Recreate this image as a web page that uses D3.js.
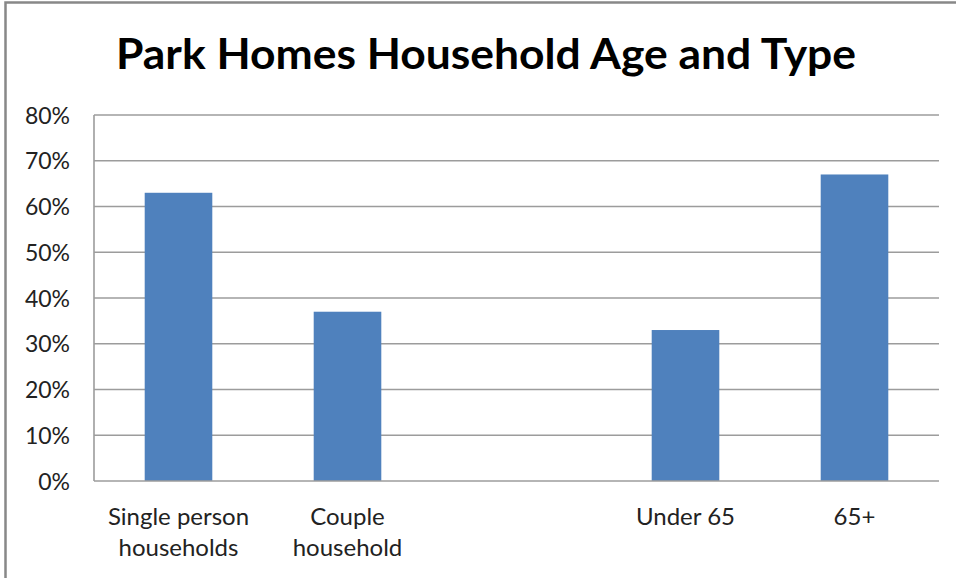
<!DOCTYPE html>
<html>
<head>
<meta charset="utf-8">
<script src="https://cdn.jsdelivr.net/npm/d3@7"></script>
<style>
  html, body { margin: 0; padding: 0; background: #fff; }
  svg { display: block; }
</style>
</head>
<body>
<svg id="chart" width="956" height="578"></svg>
<script>
const title = "Park Homes Household Age and Type";
const categories = ["Single person households", "Couple household", "", "Under 65", "65+"];
const categoryLines = [["Single person", "households"], ["Couple", "household"], [""], ["Under 65"], ["65+"]];
const values = [0.63, 0.37, null, 0.33, 0.67];
const yTicks = [0, 0.1, 0.2, 0.3, 0.4, 0.5, 0.6, 0.7, 0.8];

const svg = d3.select("#chart");
const W = 956, H = 578;
const plot = { left: 94, right: 939, top: 115, bottom: 481 };

// outer frame
svg.append("rect")
  .attr("x", 5.5).attr("y", 2.5)
  .attr("width", W + 10).attr("height", H + 10)
  .attr("fill", "#fff").attr("stroke", "#888").attr("stroke-width", 2.5);

// title
svg.append("text")
  .attr("x", 486).attr("y", 69)
  .attr("text-anchor", "middle")
  .attr("font-family", "Lato, 'Open Sans', sans-serif")
  .attr("font-weight", "bold")
  .attr("font-size", 42)
  .attr("fill", "#000")
  .attr("textLength", 740)
  .attr("lengthAdjust", "spacingAndGlyphs")
  .text(title);

const y = d3.scaleLinear().domain([0, 0.8]).range([plot.bottom, plot.top]);
const xBand = d3.scaleBand().domain(d3.range(categories.length)).range([plot.left, plot.right]).padding(0);
const xBar = d3.scaleBand().domain(d3.range(categories.length)).range([plot.left, plot.right])
  .paddingInner(0.6).paddingOuter(0.3);

// gridlines
svg.append("g").selectAll("line").data(yTicks.filter(t => t > 0)).join("line")
  .attr("x1", plot.left).attr("x2", plot.right)
  .attr("y1", d => y(d)).attr("y2", d => y(d))
  .attr("stroke", "#9c9c9c").attr("stroke-width", 1.6);

// y axis labels
const yAxis = d3.axisLeft(y).tickValues(yTicks).tickFormat(d3.format(".0%")).tickSize(0).tickPadding(24);
const gy = svg.append("g").attr("transform", `translate(${plot.left},0)`).call(yAxis);
gy.select(".domain").remove();
gy.selectAll("text")
  .attr("font-family", "Lato, 'Open Sans', sans-serif")
  .attr("font-size", 23)
  .attr("fill", "#222")
  .attr("dy", "0.35em");

// bars
svg.append("g").selectAll("rect")
  .data(values.map((v, i) => ({ v, i })).filter(d => d.v != null))
  .join("rect")
  .attr("x", d => xBar(d.i))
  .attr("width", xBar.bandwidth())
  .attr("y", d => y(d.v))
  .attr("height", d => y(0) - y(d.v))
  .attr("fill", "#4F81BD");

// axis lines
svg.append("line")
  .attr("x1", plot.left).attr("x2", plot.left)
  .attr("y1", plot.top).attr("y2", plot.bottom)
  .attr("stroke", "#9c9c9c").attr("stroke-width", 1.6);
svg.append("line")
  .attr("x1", plot.left).attr("x2", plot.right)
  .attr("y1", plot.bottom).attr("y2", plot.bottom)
  .attr("stroke", "#9c9c9c").attr("stroke-width", 1.6);

// category labels
const gx = svg.append("g");
categoryLines.forEach((lines, i) => {
  const t = gx.append("text")
    .attr("x", xBand(i) + xBand.bandwidth() / 2)
    .attr("y", 525)
    .attr("text-anchor", "middle")
    .attr("font-family", "Lato, 'Open Sans', sans-serif")
    .attr("font-size", 24)
    .attr("fill", "#222");
  lines.forEach((ln, j) => {
    t.append("tspan")
      .attr("x", xBand(i) + xBand.bandwidth() / 2)
      .attr("dy", j === 0 ? 0 : 31)
      .text(ln);
  });
});
</script>
</body>
</html>
